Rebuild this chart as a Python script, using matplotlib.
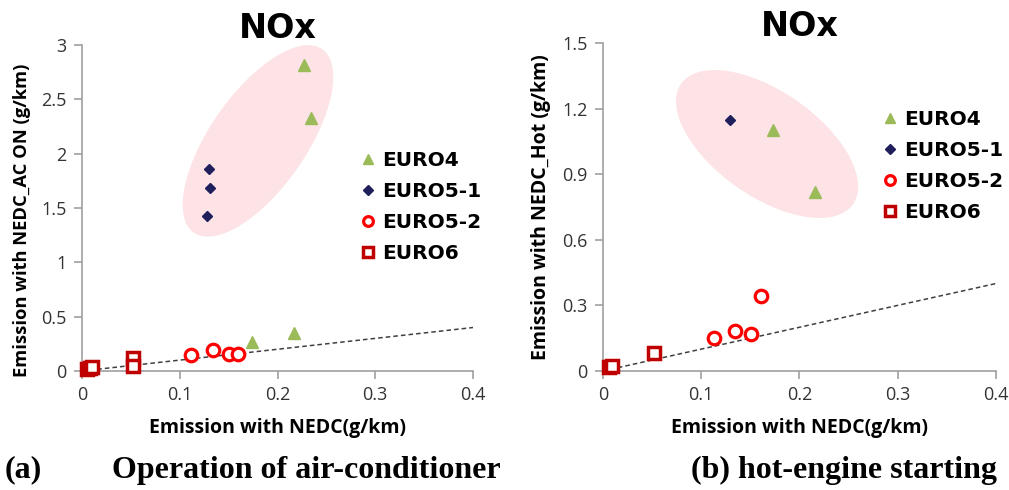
import matplotlib
matplotlib.use("Agg")
import matplotlib.pyplot as plt
from matplotlib.patches import Ellipse
from matplotlib.transforms import ScaledTranslation

# ---- data ----
a_euro4_x = [0.227, 0.234, 0.174, 0.217]
a_euro4_y = [2.82, 2.33, 0.27, 0.35]
a_euro51_x = [0.130, 0.131, 0.128]
a_euro51_y = [1.86, 1.68, 1.43]
a_euro52_x = [0.111, 0.134, 0.150, 0.160]
a_euro52_y = [0.15, 0.19, 0.155, 0.155]
a_euro6_x = [0.005, 0.008, 0.010, 0.052, 0.052]
a_euro6_y = [0.02, 0.03, 0.04, 0.12, 0.05]

b_euro4_x = [0.173, 0.216]
b_euro4_y = [1.10, 0.82]
b_euro51_x = [0.129]
b_euro51_y = [1.15]
b_euro52_x = [0.113, 0.134, 0.151, 0.161]
b_euro52_y = [0.152, 0.183, 0.168, 0.344]
b_euro6_x = [0.006, 0.009, 0.052]
b_euro6_y = [0.018, 0.022, 0.084]

line_x = [0, 0.4]
line_y = [0, 0.4]

a_yticks = [0, 0.5, 1, 1.5, 2, 2.5, 3]
a_yticklabels = ["0", "0.5", "1", "1.5", "2", "2.5", "3"]
b_yticks = [0, 0.3, 0.6, 0.9, 1.2, 1.5]
b_yticklabels = ["0", "0.3", "0.6", "0.9", "1.2", "1.5"]
xticks = [0, 0.1, 0.2, 0.3, 0.4]
xticklabels = ["0", "0.1", "0.2", "0.3", "0.4"]

labels = ["EURO4", "EURO5-1", "EURO5-2", "EURO6"]

C_G = "#9bbb59"
C_N = "#1f1f5c"
C_R = "#ff0000"
C_DR = "#c00000"
PINK = "#fde3e5"
TICKC = "#333333"
SPINE = "#a0a0a0"

fig = plt.figure(figsize=(10.09, 4.90), dpi=100)
axA = fig.add_axes([0.0813, 0.2429, 0.3875, 0.6653])
axB = fig.add_axes([0.5976, 0.2429, 0.3895, 0.6694])

def draw(ax, d4, d51, d52, d6, ylim, yt, ytl, ell, leg_anchor, ylabel, ylab_xy, ylab_fs):
    cx, cy, w, h, ang = ell
    tr = fig.dpi_scale_trans + ScaledTranslation(cx, cy, ax.transData)
    ax.add_patch(Ellipse((0, 0), w, h, angle=ang, transform=tr,
                         facecolor=PINK, edgecolor="none", zorder=0))
    ax.plot(line_x, line_y, ls=(0, (3, 2)), color="#404040", lw=1.1, zorder=1)
    h4, = ax.plot(d4[0], d4[1], ls="none", marker="^", ms=9, color=C_G, mec=C_G, zorder=3, clip_on=False)
    h51, = ax.plot(d51[0], d51[1], ls="none", marker="D", ms=5.5, color=C_N, mec=C_N, zorder=3, clip_on=False)
    h52, = ax.plot(d52[0], d52[1], ls="none", marker="o", ms=9, mfc="white", mec=C_R, mew=2.3, zorder=3, clip_on=False)
    h6, = ax.plot(d6[0], d6[1], ls="none", marker="s", ms=9, mfc="white", mec=C_DR, mew=2.5, zorder=4, clip_on=False)
    ax.set_xlim(0, 0.4)
    ax.set_ylim(*ylim)
    ax.set_xticks(xticks)
    ax.set_xticklabels(xticklabels)
    ax.set_yticks(yt)
    ax.set_yticklabels(ytl)
    for s in ["top", "right"]:
        ax.spines[s].set_visible(False)
    for s in ["left", "bottom"]:
        ax.spines[s].set_color(SPINE)
        ax.spines[s].set_linewidth(1.2)
    ax.tick_params(direction="out", length=6, width=1.2, color=SPINE,
                   labelcolor=TICKC, labelsize=13, pad=5)
    for t in ax.get_xticklabels() + ax.get_yticklabels():
        t.set_fontfamily("Open Sans")
    leg = ax.legend([h4, h51, h52, h6], labels, loc="upper left", bbox_to_anchor=leg_anchor,
                    frameon=False, handlelength=0.8, handletextpad=0.3, labelspacing=0.6,
                    borderaxespad=0, prop={"family": "DejaVu Sans", "weight": "bold", "size": 14.5})
    for lh, ms in zip(leg.legend_handles, [7, 5, 7, 7]):
        lh.set_markersize(ms)
    ax.set_ylabel(ylabel, fontsize=ylab_fs, fontweight="bold", family="Open Sans")
    ax.yaxis.set_label_coords(*ylab_xy)
    ax.set_xlabel("Emission with NEDC(g/km)", fontsize=14, fontweight="bold", family="Open Sans", labelpad=10)
    ax.set_title("NOx", fontsize=24, fontweight="bold", family="DejaVu Sans", pad=4)

draw(axA, (a_euro4_x, a_euro4_y), (a_euro51_x, a_euro51_y), (a_euro52_x, a_euro52_y),
     (a_euro6_x, a_euro6_y), (0, 3), a_yticks, a_yticklabels,
     (0.18, 2.117, 2.24, 0.96, 55), (0.69, 0.70), "Emission with NEDC_AC ON (g/km)",
     (-0.13, 0.463), 13.2)
draw(axB, (b_euro4_x, b_euro4_y), (b_euro51_x, b_euro51_y), (b_euro52_x, b_euro52_y),
     (b_euro6_x, b_euro6_y), (0, 1.5), b_yticks, b_yticklabels,
     (0.167, 1.038, 2.10, 1.05, -35), (0.69, 0.82), "Emission with NEDC_Hot (g/km)",
     (-0.132, 0.5), 14)

fig.text(5 / 1009, 1 - 470 / 490, "(a)", ha="left", va="center",
         fontsize=23, fontweight="bold", family="Liberation Serif")
fig.text(112 / 1009, 1 - 470 / 490, "Operation of air-conditioner", ha="left", va="center",
         fontsize=23, fontweight="bold", family="Liberation Serif")
fig.text(997 / 1009, 1 - 470 / 490, "(b) hot-engine starting", ha="right", va="center",
         fontsize=23, fontweight="bold", family="Liberation Serif")

fig.savefig("out.png", dpi=100)
